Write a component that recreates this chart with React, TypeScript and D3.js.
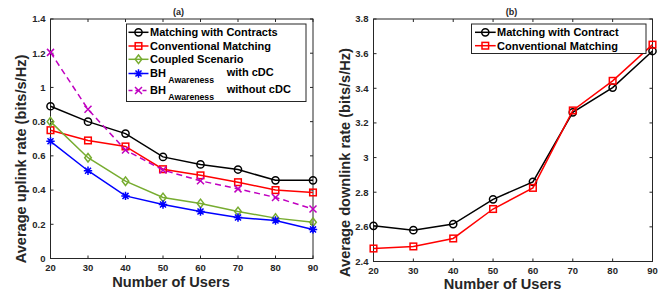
import React, { useEffect, useRef } from 'react';
import * as d3 from 'd3';

// x values shared by both panels
const users = [20, 30, 40, 50, 60, 70, 80, 90];

// panel (a) - uplink
const uplinkContracts = [0.89, 0.8, 0.73, 0.594, 0.55, 0.52, 0.457, 0.457];
const uplinkConventional = [0.75, 0.69, 0.655, 0.522, 0.486, 0.446, 0.4, 0.386];
const uplinkCoupled = [0.8, 0.589, 0.452, 0.357, 0.322, 0.275, 0.236, 0.212];
const uplinkBhWithCdc = [0.685, 0.513, 0.366, 0.316, 0.275, 0.24, 0.222, 0.17];
const uplinkBhWithoutCdc = [1.205, 0.872, 0.634, 0.517, 0.454, 0.407, 0.357, 0.289];

// panel (b) - downlink
const downlinkContract = [2.606, 2.581, 2.616, 2.759, 2.86, 3.261, 3.404, 3.615];
const downlinkConventional = [2.475, 2.487, 2.533, 2.703, 2.825, 3.272, 3.443, 3.652];

const uplinkTicks = [0, 0.2, 0.4, 0.6, 0.8, 1, 1.2, 1.4];
const downlinkTicks = [2.4, 2.6, 2.8, 3, 3.2, 3.4, 3.6, 3.8];

const FONT = '"Liberation Sans", Arial, Helvetica, sans-serif';
const AXIS = '#262626';
const GREEN = '#77ac30';
const MAGENTA = '#c000c0';

type Marker = 'circle' | 'square' | 'diamond' | 'star' | 'x';

const drawMarker = (
  g: d3.Selection<SVGGElement, unknown, null, undefined>,
  type: Marker,
  x: number,
  y: number,
  color: string
) => {
  const sw = 1.5;
  if (type === 'circle') {
    g.append('circle').attr('cx', x).attr('cy', y).attr('r', 3.6)
      .attr('fill', 'none').attr('stroke', color).attr('stroke-width', sw);
  } else if (type === 'square') {
    g.append('rect').attr('x', x - 3.3).attr('y', y - 3.3).attr('width', 6.6).attr('height', 6.6)
      .attr('fill', 'none').attr('stroke', color).attr('stroke-width', sw);
  } else if (type === 'diamond') {
    g.append('path').attr('d', `M${x},${y - 4.3}L${x + 3.3},${y}L${x},${y + 4.3}L${x - 3.3},${y}Z`)
      .attr('fill', 'none').attr('stroke', color).attr('stroke-width', sw);
  } else if (type === 'star') {
    const r = 4.2;
    let d = `M${x - r},${y}L${x + r},${y}M${x},${y - r}L${x},${y + r}`;
    const k = r * 0.72;
    d += `M${x - k},${y - k}L${x + k},${y + k}M${x - k},${y + k}L${x + k},${y - k}`;
    g.append('path').attr('d', d).attr('stroke', color).attr('stroke-width', sw).attr('fill', 'none');
  } else {
    const r = 3.5;
    g.append('path').attr('d', `M${x - r},${y - r}L${x + r},${y + r}M${x - r},${y + r}L${x + r},${y - r}`)
      .attr('stroke', color).attr('stroke-width', sw).attr('fill', 'none');
  }
};

interface Series {
  values: number[];
  color: string;
  marker: Marker;
  dash?: string;
}

interface PanelSpec {
  left: number;
  right: number;
  top: number;
  bottom: number;
  domain: [number, number];
  ticks: number[];
  series: Series[];
  title: string;
  titleX: number;
  yLabel: string;
  yLabelX: number;
  yLabelY: number;
  xLabelX: number;
  xLabelY: number;
}

const fmt = (v: number) => String(+v.toFixed(1));

const App: React.FC = () => {
  const svgRef = useRef<SVGSVGElement>(null);

  useEffect(() => {
    const svg = d3.select(svgRef.current);
    svg.selectAll('*').remove();

    const panels: PanelSpec[] = [
      {
        left: 50.5, right: 313, top: 19, bottom: 258.5,
        domain: [0, 1.4], ticks: uplinkTicks,
        series: [
          { values: uplinkContracts, color: '#000000', marker: 'circle' },
          { values: uplinkConventional, color: '#ff0000', marker: 'square' },
          { values: uplinkCoupled, color: GREEN, marker: 'diamond' },
          { values: uplinkBhWithCdc, color: '#0000ff', marker: 'star' },
          { values: uplinkBhWithoutCdc, color: MAGENTA, marker: 'x', dash: '6,4' }
        ],
        title: '(a)', titleX: 178.5,
        yLabel: 'Average uplink rate (bits/s/Hz)', yLabelX: 26, yLabelY: 159,
        xLabelX: 171, xLabelY: 287
      },
      {
        left: 373.5, right: 652.5, top: 19, bottom: 261.5,
        domain: [2.4, 3.8], ticks: downlinkTicks,
        series: [
          { values: downlinkContract, color: '#000000', marker: 'circle' },
          { values: downlinkConventional, color: '#ff0000', marker: 'square' }
        ],
        title: '(b)', titleX: 511.5,
        yLabel: 'Average downlink rate (bits/s/Hz)', yLabelX: 349.5, yLabelY: 162.5,
        xLabelX: 502.5, xLabelY: 289
      }
    ];

    panels.forEach(p => {
      const x = d3.scaleLinear().domain([20, 90]).range([p.left, p.right]);
      const y = d3.scaleLinear().domain(p.domain).range([p.bottom, p.top]);
      const g = svg.append('g');

      // box
      g.append('rect')
        .attr('x', p.left).attr('y', p.top)
        .attr('width', p.right - p.left).attr('height', p.bottom - p.top)
        .attr('fill', '#fff').attr('stroke', AXIS).attr('stroke-width', 1);

      // inward ticks on all four sides
      const tl = 3;
      users.forEach(u => {
        g.append('line').attr('x1', x(u)).attr('x2', x(u)).attr('y1', p.bottom).attr('y2', p.bottom - tl).attr('stroke', AXIS);
        g.append('line').attr('x1', x(u)).attr('x2', x(u)).attr('y1', p.top).attr('y2', p.top + tl).attr('stroke', AXIS);
        g.append('text')
          .attr('x', x(u)).attr('y', p.bottom + 12.5)
          .attr('text-anchor', 'middle')
          .style('font', `bold 9.5px ${FONT}`).attr('fill', AXIS)
          .text(u);
      });
      p.ticks.forEach(t => {
        g.append('line').attr('x1', p.left).attr('x2', p.left + tl).attr('y1', y(t)).attr('y2', y(t)).attr('stroke', AXIS);
        g.append('line').attr('x1', p.right).attr('x2', p.right - tl).attr('y1', y(t)).attr('y2', y(t)).attr('stroke', AXIS);
        g.append('text')
          .attr('x', p.left - 5).attr('y', y(t) + 3.4)
          .attr('text-anchor', 'end')
          .style('font', `bold 9.5px ${FONT}`).attr('fill', AXIS)
          .text(fmt(t));
      });

      // title and labels
      g.append('text').attr('x', p.titleX).attr('y', 15).attr('text-anchor', 'middle')
        .style('font', `bold 9px ${FONT}`).attr('fill', AXIS).text(p.title);
      g.append('text').attr('x', p.xLabelX).attr('y', p.xLabelY).attr('text-anchor', 'middle')
        .style('font', `bold 14.6px ${FONT}`).attr('fill', AXIS).text('Number of Users');
      g.append('text')
        .attr('transform', `translate(${p.yLabelX},${p.yLabelY}) rotate(-90)`)
        .attr('text-anchor', 'middle')
        .style('font', `bold 14.6px ${FONT}`).attr('fill', AXIS).text(p.yLabel);

      // lines + markers
      const line = d3.line<number>().x((_, i) => x(users[i])).y(d => y(d));
      p.series.forEach(s => {
        g.append('path').attr('d', line(s.values))
          .attr('fill', 'none').attr('stroke', s.color).attr('stroke-width', 1.5)
          .attr('stroke-dasharray', s.dash ?? null);
        s.values.forEach((v, i) => drawMarker(g, s.marker, x(users[i]), y(v), s.color));
      });
    });

    // legends
    const leg = svg.append('g');
    const legendText = (gx: d3.Selection<SVGGElement, unknown, null, undefined>, tx: number, ty: number, txt: string, size = 11) =>
      gx.append('text').attr('x', tx).attr('y', ty).style('font', `bold ${size}px ${FONT}`).attr('fill', '#000').text(txt);

    // (a)
    leg.append('rect').attr('x', 126.5).attr('y', 24).attr('width', 179.5).attr('height', 77.5)
      .attr('fill', '#fff').attr('stroke', AXIS);
    const legA: { name: string; color: string; marker: Marker; dash?: string; cy: number; sub?: string; tail?: string }[] = [
      { name: 'Matching with Contracts', color: '#000000', marker: 'circle', cy: 32.3 },
      { name: 'Conventional Matching', color: '#ff0000', marker: 'square', cy: 46 },
      { name: 'Coupled Scenario', color: GREEN, marker: 'diamond', cy: 59.3 },
      { name: 'BH', sub: 'Awareness', tail: 'with cDC', color: '#0000ff', marker: 'star', cy: 73.5 },
      { name: 'BH', sub: 'Awareness', tail: 'without cDC', color: MAGENTA, marker: 'x', dash: '6,4', cy: 90.5 }
    ];
    legA.forEach(e => {
      leg.append('line').attr('x1', 128.5).attr('x2', 148.5).attr('y1', e.cy).attr('y2', e.cy)
        .attr('stroke', e.color).attr('stroke-width', 1.5).attr('stroke-dasharray', e.dash ? '4,3' : null);
      drawMarker(leg, e.marker, 138.5, e.cy, e.color);
      if (e.sub) {
        legendText(leg, 150, e.cy + 3, e.name);
        legendText(leg, 168.3, e.cy + 9.3, e.sub, 8.7);
        legendText(leg, 226.7, e.cy + 2.5, e.tail!);
      } else {
        legendText(leg, 150, e.cy + 4, e.name);
      }
    });

    // (b)
    leg.append('rect').attr('x', 471.5).attr('y', 24).attr('width', 174.5).attr('height', 29.5)
      .attr('fill', '#fff').attr('stroke', AXIS);
    const legB: { name: string; color: string; marker: Marker; cy: number }[] = [
      { name: 'Matching with Contract', color: '#000000', marker: 'circle', cy: 32.3 },
      { name: 'Conventional Matching', color: '#ff0000', marker: 'square', cy: 45.7 }
    ];
    legB.forEach(e => {
      leg.append('line').attr('x1', 475).attr('x2', 495.7).attr('y1', e.cy).attr('y2', e.cy)
        .attr('stroke', e.color).attr('stroke-width', 1.5);
      drawMarker(leg, e.marker, 485.3, e.cy, e.color);
      legendText(leg, 497, e.cy + 4, e.name);
    });
  }, []);

  return (
    <svg
      ref={svgRef}
      width={671}
      height={297}
      style={{ position: 'absolute', left: 0, top: 0, background: '#fff', display: 'block' }}
    />
  );
};

export default App;
